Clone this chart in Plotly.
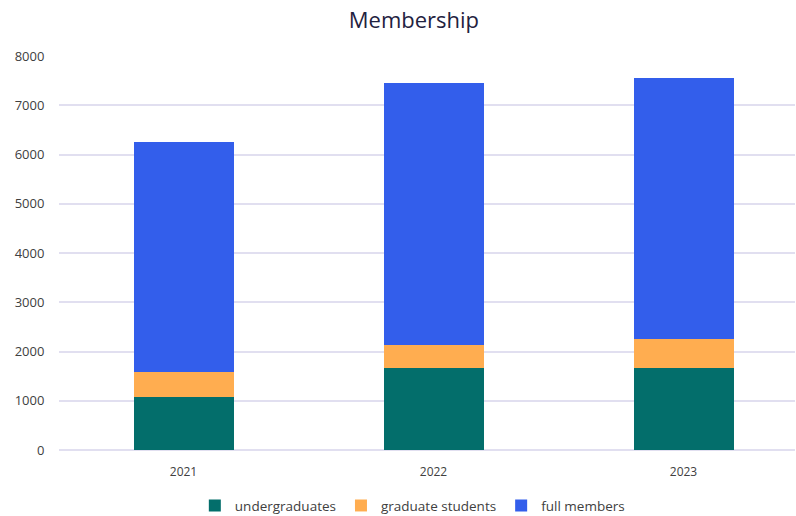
import plotly.graph_objects as go

years = ["2021", "2022", "2023"]
undergraduates = [1085, 1655, 1660]
graduate_students = [505, 475, 590]
full_members = [4660, 5330, 5300]

colors = {"undergraduates": "#036e6b", "graduate students": "#ffad50", "full members": "#335eeb"}

fig = go.Figure()
for name, vals in [("undergraduates", undergraduates),
                   ("graduate students", graduate_students),
                   ("full members", full_members)]:
    fig.add_trace(go.Bar(x=years, y=vals, name=name, width=0.4,
                         marker=dict(color=colors[name], line=dict(width=0))))

fig.update_layout(
    barmode="stack",
    width=796, height=516,
    margin=dict(l=59, r=1, t=56, b=66),
    paper_bgcolor="white", plot_bgcolor="white",
    font=dict(family="Open Sans", color="#404040", size=12),
    title=dict(text="Membership", x=0.52, xanchor="center", y=0.96, yanchor="middle",
               font=dict(size=22, color="#1f2240")),
    legend=dict(orientation="h", xref="container", yref="container",
                x=0.518, xanchor="center", y=0.02, yanchor="middle",
                font=dict(size=13.5, color="#404040"), itemwidth=30, traceorder="normal"),
    xaxis=dict(type="category", range=[-0.498, 2.446], showgrid=False, showline=False,
               ticks="outside", ticklen=11, tickcolor="rgba(0,0,0,0)",
               tickfont=dict(size=12, color="#404040")),
    yaxis=dict(range=[0, 8000], dtick=1000, showgrid=True, gridcolor="#e1dff0", gridwidth=1.5,
               zeroline=True, zerolinecolor="#e1dff0", zerolinewidth=1.5,
               tickfont=dict(size=13, color="#404040"), ticks="outside", ticklen=11,
               tickcolor="rgba(0,0,0,0)"),
)

fig.write_html("out.html", config={"displayModeBar": False},
               post_script="document.body.style.margin='0';")
